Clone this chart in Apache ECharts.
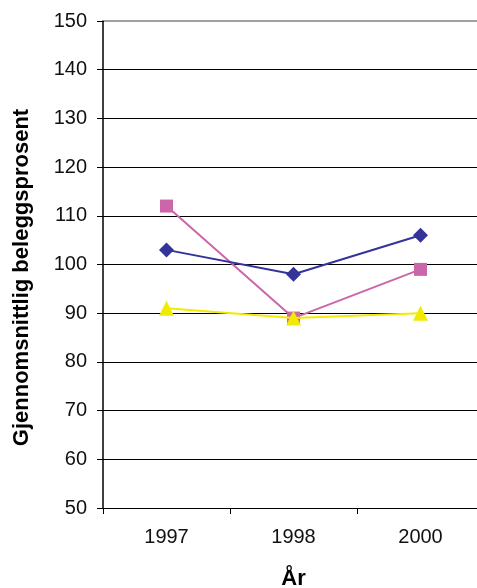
<!DOCTYPE html>
<html>
<head>
<meta charset="utf-8">
<style>
  html, body { margin: 0; padding: 0; background: #fff; }
  #chart { width: 477px; height: 588px; }
</style>
<script src="https://cdn.jsdelivr.net/npm/echarts@6/dist/echarts.min.js"></script>
</head>
<body>
<div id="chart"></div>
<script>
// Years on the category axis
const years = ['1997', '1998', '2000'];

// Average occupancy percentage per series
const seriesBlue = [103, 98, 106];
const seriesPink = [112, 89, 99];
const seriesYellow = [91, 89, 90];

// Value axis range
const yMin = 50;
const yMax = 150;
const yStep = 10;

const font = 'Liberation Sans, Arial, sans-serif';

const chart = echarts.init(document.getElementById('chart'), null, { renderer: 'canvas' });

chart.setOption({
  animation: false,
  backgroundColor: '#ffffff',
  // plot area runs slightly past the right edge of the canvas
  grid: {
    left: 103, width: 381, top: 21, height: 487,
    containLabel: false,
    outerBoundsMode: 'none'
  },
  xAxis: {
    type: 'category',
    data: years,
    boundaryGap: true,
    name: 'År',
    nameLocation: 'middle',
    nameGap: 60,
    nameTextStyle: { fontFamily: font, fontSize: 22, fontWeight: 'bold', color: '#000' },
    axisLine: { lineStyle: { color: '#000', width: 1 } },
    axisTick: { show: true, alignWithLabel: false, length: 6, inside: false, lineStyle: { color: '#000' } },
    axisLabel: { fontFamily: font, fontSize: 20, color: '#111', margin: 19 },
    splitLine: { show: false }
  },
  yAxis: {
    type: 'value',
    min: yMin,
    max: yMax,
    interval: yStep,
    name: 'Gjennomsnittlig beleggsprosent',
    nameLocation: 'middle',
    nameGap: 70,
    nameRotate: 90,
    nameTextStyle: {
      fontFamily: font, fontSize: 22, fontWeight: 'bold', color: '#000',
      padding: [0, 26, 0, 0]
    },
    axisLine: { show: true, lineStyle: { color: '#000', width: 1.5 } },
    axisTick: { show: true, length: 6, lineStyle: { color: '#000' } },
    axisLabel: { fontFamily: font, fontSize: 20, color: '#111', margin: 16 },
    splitLine: { show: true, lineStyle: { width: 1, color: '#000' } }
  },
  series: [
    {
      name: 'A',
      type: 'line',
      data: seriesBlue,
      symbol: 'diamond',
      symbolSize: 15,
      lineStyle: { color: '#333399', width: 2 },
      itemStyle: { color: '#333399' },
      z: 3
    },
    {
      name: 'B',
      type: 'line',
      data: seriesPink,
      symbol: 'rect',
      symbolSize: 13,
      lineStyle: { color: '#CC66AA', width: 2 },
      itemStyle: { color: '#CC66AA' },
      z: 2
    },
    {
      name: 'C',
      type: 'line',
      data: seriesYellow,
      symbol: 'triangle',
      symbolSize: 15,
      lineStyle: { color: '#F2EA00', width: 2 },
      itemStyle: { color: '#F2EA00' },
      z: 4
    }
  ]
});

// Lighter top border of the plot area, drawn over the top gridline
const topY = chart.convertToPixel({ yAxisIndex: 0 }, yMax);
chart.setOption({
  graphic: [{
    type: 'line',
    shape: { x1: 104, y1: topY, x2: chart.getWidth(), y2: topY },
    style: { stroke: '#a0a0a0', lineWidth: 2 },
    z: 10
  }]
});
</script>
</body>
</html>
